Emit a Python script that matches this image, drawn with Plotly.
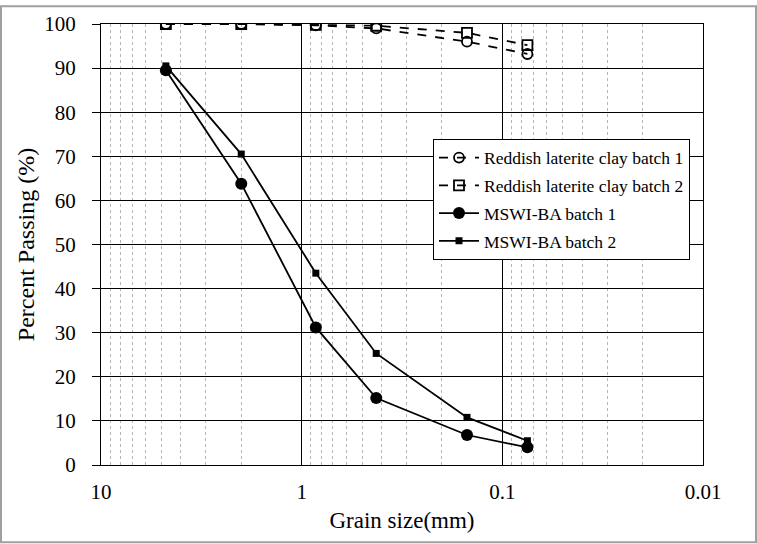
import plotly.graph_objects as go

grain_size = [4.75, 2.0, 0.85, 0.425, 0.15, 0.075]
clay_b1 = [100, 100, 99.7, 99.0, 96.0, 93.2]
clay_b2 = [100, 100, 99.8, 99.6, 98.0, 95.2]
ba_b1 = [89.5, 63.8, 31.2, 15.2, 6.8, 4.0]
ba_b2 = [90.5, 70.5, 43.5, 25.3, 10.8, 5.5]

x_tickvals = [10, 1, 0.1, 0.01]
x_ticktext = ["10", "1", "0.1", "0.01"]
y_tickvals = list(range(0, 101, 10))

fig = go.Figure()
fig.add_trace(go.Scatter(x=grain_size, y=clay_b1, name="Reddish laterite clay batch 1",
                         mode="lines+markers", legendgroup="a",
                         line=dict(color="black", width=1.8, dash="dash"),
                         marker=dict(symbol="circle-open", size=10, color="black", line=dict(width=1.8))))
fig.add_trace(go.Scatter(x=grain_size, y=clay_b2, name="Reddish laterite clay batch 2",
                         mode="lines+markers", legendgroup="b",
                         line=dict(color="black", width=1.8, dash="dash"),
                         marker=dict(symbol="square-open", size=10, color="black", line=dict(width=1.8))))
fig.add_trace(go.Scatter(x=grain_size, y=ba_b1, name="MSWI-BA batch 1",
                         mode="lines+markers", legendgroup="c",
                         line=dict(color="black", width=1.8),
                         marker=dict(symbol="circle", size=12, color="black")))
fig.add_trace(go.Scatter(x=grain_size, y=ba_b2, name="MSWI-BA batch 2",
                         mode="lines+markers", legendgroup="d",
                         line=dict(color="black", width=1.8),
                         marker=dict(symbol="square", size=7, color="black")))

L, R, T, B = 101, 54, 19, 79
W, H = 757, 544
pw, ph = W - L - R, H - T - B

fig.update_layout(
    width=W, height=H,
    margin=dict(l=L, r=R, t=T, b=B),
    paper_bgcolor="white", plot_bgcolor="white",
    font=dict(family="Liberation Serif", color="black", size=21),
    legend=dict(x=(433 - L) / pw, y=(H - B - 135) / ph, xanchor="left", yanchor="top",
                bordercolor="black", borderwidth=1, bgcolor="white",
                font=dict(size=17.5, family="Liberation Serif"), tracegroupgap=2, itemwidth=40),
    shapes=[dict(type="rect", xref="paper", yref="paper",
                 x0=-(L - 1) / pw, x1=1 + (R - 1) / pw,
                 y0=-(B - 1) / ph, y1=1 + (T - 1) / ph,
                 line=dict(color="#a0a0a0", width=2))],
)
fig.update_xaxes(type="log", range=[1, -2], tickvals=x_tickvals, ticktext=x_ticktext,
                 showgrid=True, gridcolor="black", gridwidth=1,
                 showline=True, linecolor="black", mirror=True, linewidth=1,
                 ticks="", ticklen=0, ticklabelstandoff=8,
                 tickfont=dict(family="Liberation Serif", size=21),
                 minor=dict(dtick="D1", showgrid=True, gridcolor="#b5b5b5", griddash="dot", gridwidth=1),
                 title=dict(text="Grain size(mm)", font=dict(size=23, family="Liberation Serif"), standoff=8),
                 zeroline=False)
fig.update_yaxes(range=[0, 100], tickvals=y_tickvals,
                 showgrid=True, gridcolor="black", gridwidth=1,
                 showline=True, linecolor="black", mirror=True, linewidth=1,
                 ticks="outside", ticklen=8, tickcolor="black", ticklabelstandoff=12,
                 tickfont=dict(family="Liberation Serif", size=21),
                 title=dict(text="Percent Passing (%)", font=dict(size=24, family="Liberation Serif"), standoff=2),
                 zeroline=False)

fig.write_html("out.html", config={"displayModeBar": False},
               post_script="document.body.style.margin='0';")
